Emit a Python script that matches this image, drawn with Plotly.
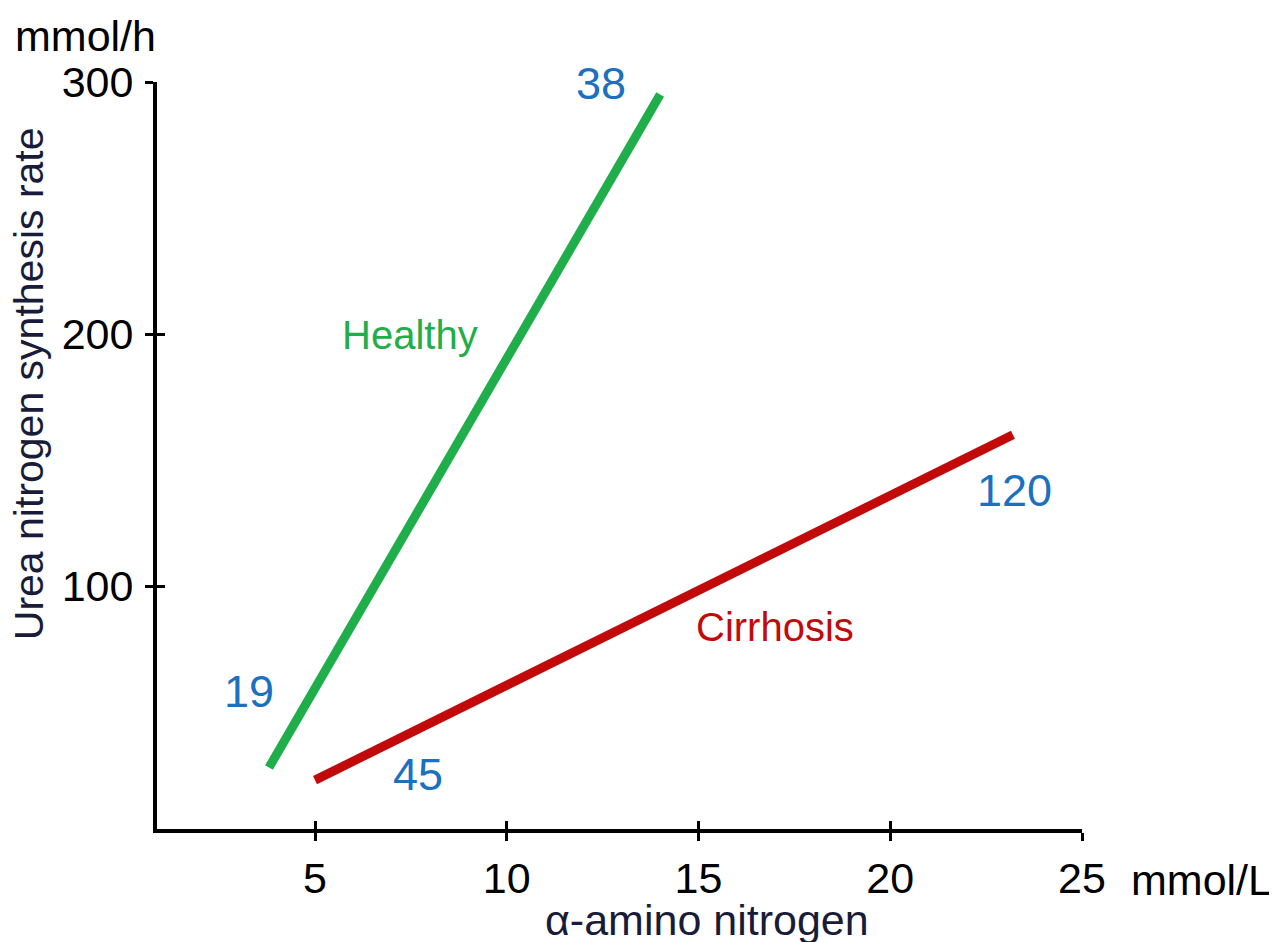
import plotly.graph_objects as go

# Data
healthy_x = [3.8, 14.0]
healthy_y = [28, 295]
cirrhosis_x = [5.0, 23.2]
cirrhosis_y = [23, 160]

x_ticks = [5, 10, 15, 20, 25]
y_ticks = [100, 200, 300]
x_range = [0.88, 25]
y_range = [3.6, 300]

# value labels (text, x, y)
num_labels = ["38", "19", "45", "120"]
num_x = [12.47, 3.28, 7.68, 23.23]
num_y = [299.5, 58.3, 25.4, 138]

series_labels = ["Healthy", "Cirrhosis"]
series_lx = [7.47, 17.0]
series_ly = [199.5, 83.7]

GREEN = "#1fae4a"
RED = "#c20a0a"
BLUE = "#1b70c0"
NAVY = "#191c38"
FONT = "Liberation Sans, Arial, Helvetica, sans-serif"

fig = go.Figure()
fig.add_trace(go.Scatter(x=healthy_x, y=healthy_y, mode="lines",
                         line=dict(color=GREEN, width=9), showlegend=False, hoverinfo="skip"))
fig.add_trace(go.Scatter(x=cirrhosis_x, y=cirrhosis_y, mode="lines",
                         line=dict(color=RED, width=9), showlegend=False, hoverinfo="skip"))

anns = []
for t, x, y in zip(num_labels, num_x, num_y):
    anns.append(dict(text=t, x=x, y=y, xref="x", yref="y", showarrow=False,
                     xanchor="center", yanchor="middle",
                     font=dict(color=BLUE, size=45, family=FONT)))
for t, x, y, c in zip(series_labels, series_lx, series_ly, [GREEN, RED]):
    anns.append(dict(text=t, x=x, y=y, xref="x", yref="y", showarrow=False,
                     xanchor="center", yanchor="middle",
                     font=dict(color=c, size=40, family=FONT)))

# titles and units
common = dict(xref="paper", yref="paper", showarrow=False, xanchor="center", yanchor="middle")
anns.append(dict(text="α-amino nitrogen", x=0.595, y=-0.122,
                 font=dict(color=NAVY, size=43, family=FONT), **common))
anns.append(dict(text="Urea nitrogen synthesis rate", x=-0.139, y=0.596, textangle=-90,
                 font=dict(color=NAVY, size=41, family=FONT), **common))
anns.append(dict(text="mmol/h", x=-0.077, y=1.062,
                 font=dict(color="black", size=43, family=FONT), **common))
anns.append(dict(text="mmol/L", x=1.129, y=-0.068,
                 font=dict(color="black", size=43, family=FONT), **common))

tick_font = dict(size=43, color="black", family=FONT)
fig.update_layout(
    width=1269, height=934,
    margin=dict(l=149, r=195, t=74, b=113),
    plot_bgcolor="white", paper_bgcolor="white",
    annotations=anns,
    xaxis=dict(range=x_range, tickvals=x_ticks, showgrid=False, zeroline=False,
               showline=True, linecolor="black", linewidth=4,
               ticks="outside", ticklen=8, tickwidth=3, tickcolor="black",
               tickfont=tick_font),
    yaxis=dict(range=y_range, tickvals=y_ticks, showgrid=False, zeroline=False,
               showline=True, linecolor="black", linewidth=4,
               ticks="outside", ticklen=8, tickwidth=3, tickcolor="black",
               ticklabelstandoff=3, tickfont=tick_font),
    xaxis2=dict(range=x_range, tickvals=x_ticks, overlaying="x", side="bottom",
                showgrid=False, zeroline=False, showticklabels=False,
                ticks="inside", ticklen=8, tickwidth=3, tickcolor="black"),
    yaxis2=dict(range=y_range, tickvals=y_ticks, overlaying="y", side="left",
                showgrid=False, zeroline=False, showticklabels=False,
                ticks="inside", ticklen=8, tickwidth=3, tickcolor="black"),
)
fig.add_trace(go.Scatter(x=[None], y=[None], xaxis="x2", yaxis="y2",
                         showlegend=False, hoverinfo="skip"))

fig.write_html("out.html")
